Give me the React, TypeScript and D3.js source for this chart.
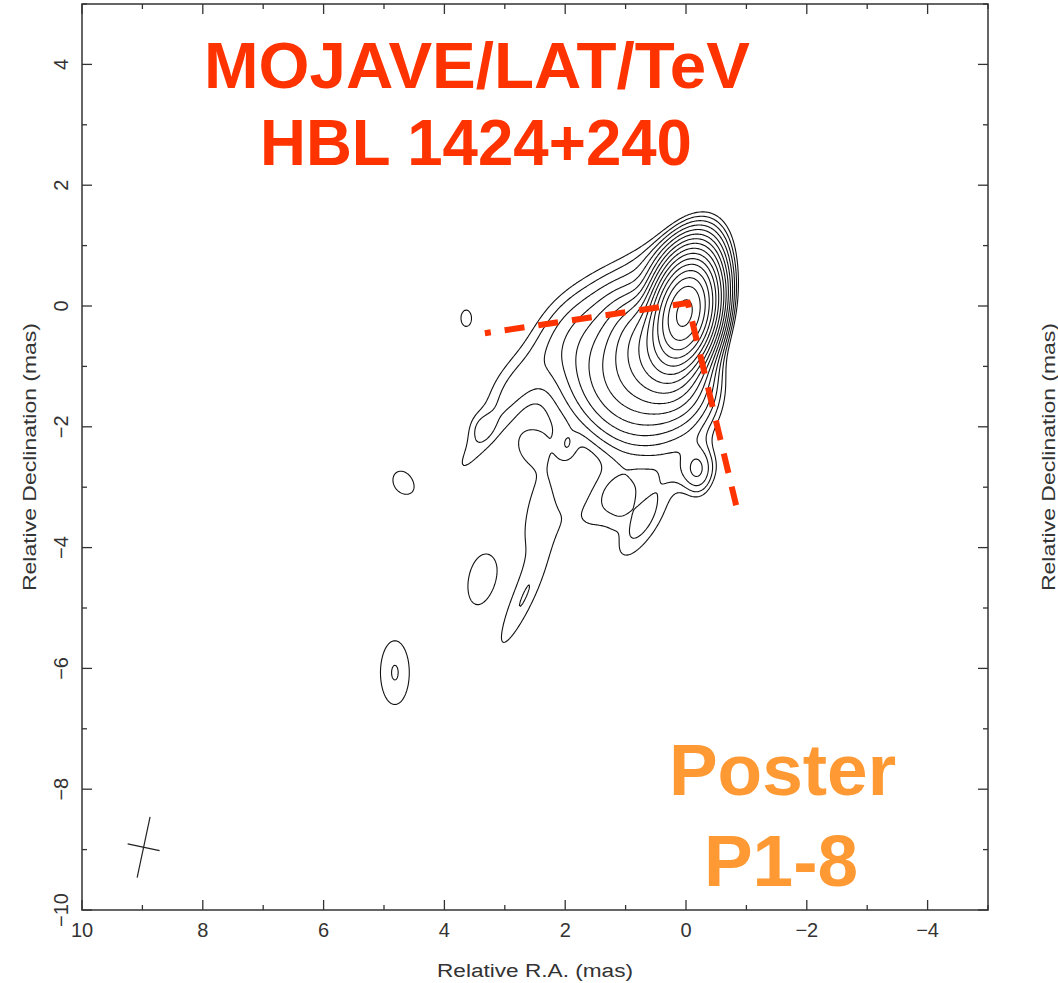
import React, { useMemo } from "react";
import * as d3 from "d3";

// Brightness model: one row per Gaussian component.
// RA / Dec offsets in mas, peak relative to the core, FWHM major / minor in mas, PA in degrees.
const compRA = [0.02, 0.0, 0.45, 0.95, 1.2, 1.8, 2.9, -0.2, 0.75, 1.15, 0.95, 2.45, 2.8, 3.45, 3.41, 1.97, 3.64, 4.69, 3.41, 4.82, -0.1, 0.5, 0.84, 2.65, 1.7];
const compDec = [-0.12, 0.3, -0.8, -1.25, -1.9, -0.2, -1.3, -2.72, -3.66, -3.16, -3.35, -3.4, -5.1, -2.3, -2.0, -2.33, -0.2, -2.92, -4.54, -6.07, -2.72, 0.75, -3.33, -2.3, -3.6];
const compPeak = [1.0, 0.07, 0.1, 0.045, 0.0025, 0.0055, 0.0035, 0.0105, 0.006, 0.0062, 0.0018, 0.0055, 0.0052, 0.0056, 0.0028, 0.0032, 0.0058, 0.0058, 0.0062, 0.00755, 0.003, 0.005, -0.0015, 0.004, 0.003];
const compMaj = [1.05, 1.3, 1.3, 1.7, 1.9, 2.8, 1.2, 0.7, 1.6, 0.8, 2.0, 2.6, 1.9, 2.0, 0.45, 0.45, 0.65, 0.96, 1.55, 1.44, 0.9, 1.0, 1.0, 0.6, 0.9];
const compMin = [0.6, 0.7, 0.9, 1.3, 1.4, 1.05, 0.7, 0.4, 0.55, 0.72, 1.2, 0.75, 0.35, 0.5, 0.4, 0.28, 0.42, 0.75, 0.75, 0.65, 0.5, 0.6, 0.2, 0.5, 0.7];
const compPA = [-12, -20, 30, 40, 60, 135, 135, 0, 150, 0, 100, 172, 155, 145, 0, 0, 0, 30, -10, 0, 100, 120, 150, 0, 0];

// contour levels, fraction of the peak
const contourLevels = [0.0052, 0.0074, 0.0105, 0.0148, 0.021, 0.0297, 0.042, 0.059, 0.084, 0.119, 0.168, 0.2375, 0.336, 0.475, 0.67, 0.95];

// restoring beam (bottom-left cross)
const beamRA = 8.98;
const beamDec = -8.96;
const beamMaj = 1.03;
const beamMin = 0.54;
const beamPA = -12;

// red ridge sketch
const ridgeRA = [3.33, -0.03, -0.83];
const ridgeDec = [-0.45, 0.05, -3.3];

const xTickLabels = [10, 8, 6, 4, 2, 0, -2, -4];
const yTickLabels = [4, 2, 0, -2, -4, -6, -8, -10];

const W = 1058;
const H = 983;
const frame = { left: 82, right: 988, top: 4, bottom: 910 };

const fmt = (v: number) => (v < 0 ? "\u2212" + Math.abs(v) : String(v));

const App = () => {
  const x = d3.scaleLinear().domain([10, -5]).range([frame.left, frame.right]);
  const y = d3.scaleLinear().domain([-10, 5]).range([frame.bottom, frame.top]);

  const contourPaths = useMemo(() => {
    const raMax = 6.2;
    const decMax = 2.4;
    const step = 0.02;
    const nx = 400;
    const ny = 490;
    const values = new Float64Array(nx * ny);
    const comps = compRA.map((ra, k) => {
      const pa = (compPA[k] * Math.PI) / 180;
      return {
        ra,
        dec: compDec[k],
        a: compPeak[k],
        sMaj: compMaj[k] / 2.3548,
        sMin: compMin[k] / 2.3548,
        s: Math.sin(pa),
        c: Math.cos(pa),
      };
    });
    for (let j = 0; j < ny; j++) {
      const dec = decMax - j * step;
      for (let i = 0; i < nx; i++) {
        const ra = raMax - i * step;
        let v = 0;
        for (const g of comps) {
          const dr = ra - g.ra;
          const dd = dec - g.dec;
          const u = dr * g.s + dd * g.c;
          const w = dr * g.c - dd * g.s;
          const q = (u * u) / (g.sMaj * g.sMaj) + (w * w) / (g.sMin * g.sMin);
          if (q < 40) v += g.a * Math.exp(-0.5 * q);
        }
        values[i + j * nx] = v;
      }
    }
    const proj = d3.geoTransform({
      point(px: number, py: number) {
        this.stream.point(x(raMax - (px - 0.5) * step), y(decMax - (py - 0.5) * step));
      },
    });
    const path = d3.geoPath(proj);
    return d3
      .contours()
      .size([nx, ny])
      .thresholds(contourLevels)(Array.from(values))
      .map((c) => path(c) || "");
  }, []);

  const ticks = x.ticks(15);
  const yticks = y.ticks(15);

  const beamLine = (len: number, paDeg: number) => {
    const pa = (paDeg * Math.PI) / 180;
    const dRa = (len / 2) * Math.sin(pa);
    const dDec = (len / 2) * Math.cos(pa);
    return { x1: x(beamRA - dRa), y1: y(beamDec - dDec), x2: x(beamRA + dRa), y2: y(beamDec + dDec) };
  };
  const bMaj = beamLine(beamMaj, beamPA);
  const bMin = beamLine(beamMin, beamPA + 90);

  const ridge = d3
    .line<number>()
    .x((_, i) => x(ridgeRA[i]))
    .y((_, i) => y(ridgeDec[i]))(ridgeRA);

  const axisColor = "#333";
  const labelFont = "'Liberation Sans', Arial, sans-serif";

  return (
    <svg width={W} height={H} style={{ display: "block", position: "absolute", left: 0, top: 0, background: "#fff" }}>
      <rect x={0} y={0} width={W} height={H} fill="#fff" />

      {/* contours */}
      <g fill="none" stroke="#111" strokeWidth={1.1}>
        {contourPaths.map((d, i) => (
          <path key={i} d={d} />
        ))}
      </g>

      {/* frame and ticks */}
      <rect
        x={frame.left}
        y={frame.top}
        width={frame.right - frame.left}
        height={frame.bottom - frame.top}
        fill="none"
        stroke={axisColor}
        strokeWidth={1.5}
      />
      <g stroke={axisColor} strokeWidth={1.3}>
        {ticks.map((t) => {
          const len = t % 2 === 0 ? 10 : 5;
          return (
            <g key={"x" + t}>
              <line x1={x(t)} x2={x(t)} y1={frame.bottom} y2={frame.bottom - len} />
              <line x1={x(t)} x2={x(t)} y1={frame.top} y2={frame.top + len} />
            </g>
          );
        })}
        {yticks.map((t) => {
          const len = t % 2 === 0 ? 10 : 5;
          return (
            <g key={"y" + t}>
              <line y1={y(t)} y2={y(t)} x1={frame.left} x2={frame.left + len} />
              <line y1={y(t)} y2={y(t)} x1={frame.right} x2={frame.right - len} />
            </g>
          );
        })}
      </g>

      <g fontFamily={labelFont} fontSize={20} fill={axisColor}>
        {xTickLabels.map((t) => (
          <text key={"xl" + t} x={x(t)} y={937} textAnchor="middle">
            {fmt(t)}
          </text>
        ))}
        {yTickLabels.map((t) => (
          <text key={"yl" + t} transform={`translate(68,${y(t)}) rotate(-90)`} textAnchor="middle">
            {fmt(t)}
          </text>
        ))}
      </g>

      <g fontFamily={labelFont} fontSize={18} fill={axisColor}>
        <text x={(frame.left + frame.right) / 2} y={977} textAnchor="middle" textLength={196} lengthAdjust="spacingAndGlyphs">
          Relative R.A. (mas)
        </text>
        <text
          transform={`translate(36,${(frame.top + frame.bottom) / 2}) rotate(-90)`}
          textAnchor="middle"
          textLength={268}
          lengthAdjust="spacingAndGlyphs"
        >
          Relative Declination (mas)
        </text>
        <text
          transform={`translate(1055,${(frame.top + frame.bottom) / 2}) rotate(-90)`}
          textAnchor="middle"
          textLength={268}
          lengthAdjust="spacingAndGlyphs"
        >
          Relative Declination (mas)
        </text>
      </g>

      {/* beam */}
      <g stroke="#222" strokeWidth={1.2}>
        <line {...bMaj} />
        <line {...bMin} />
      </g>

      {/* ridge sketch */}
      <path d={ridge || ""} fill="none" stroke="#FF3300" strokeWidth={6} strokeDasharray="20,14" strokeDashoffset={14} />

      {/* annotations */}
      <g fontFamily={labelFont} fontWeight="bold" textAnchor="middle">
        <text x={477} y={87.5} fontSize={65} fill="#FF3300" textLength={546} lengthAdjust="spacingAndGlyphs">
          MOJAVE/LAT/TeV
        </text>
        <text x={476} y={165} fontSize={65} fill="#FF3300" textLength={432} lengthAdjust="spacingAndGlyphs">
          HBL 1424+240
        </text>
        <text x={782.5} y={795} fontSize={73} fill="#FF9933">
          Poster
        </text>
        <text x={781} y={886} fontSize={73} fill="#FF9933">
          P1-8
        </text>
      </g>
    </svg>
  );
};

export default App;
